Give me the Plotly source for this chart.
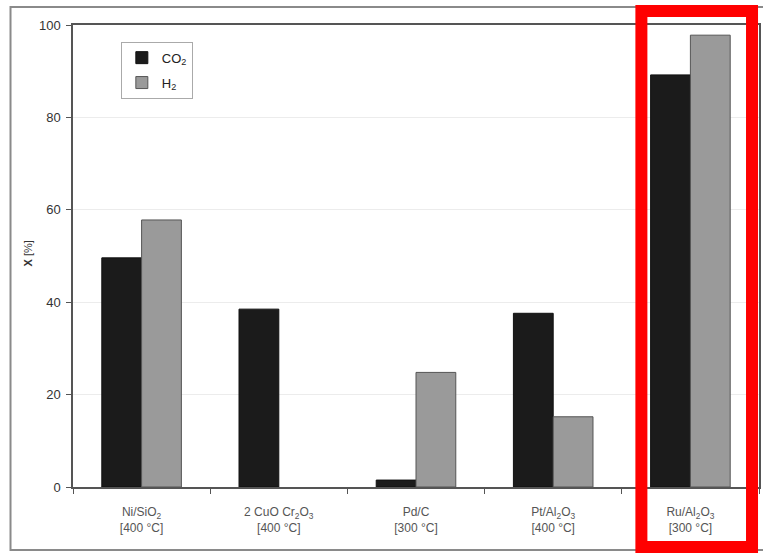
import plotly.graph_objects as go

categories = ["Ni/SiO<sub>2</sub><br>[400 °C]", "2 CuO Cr<sub>2</sub>O<sub>3</sub><br>[400 °C]",
              "Pd/C<br>[300 °C]", "Pt/Al<sub>2</sub>O<sub>3</sub><br>[400 °C]",
              "Ru/Al<sub>2</sub>O<sub>3</sub><br>[300 °C]"]
co2 = [49.6, 38.5, 1.5, 37.6, 89.2]
h2 = [57.8, None, 24.8, 15.2, 97.8]
y_ticks = [0, 20, 40, 60, 80, 100]

W, H = 763, 554
L, R, T, B = 72.7, 2, 25, 67
pw, ph = W - L - R, H - T - B

def px_x(x):
    return (x - L) / pw

def px_y(y):
    return (H - B - y) / ph

font = "Liberation Sans, Arial, sans-serif"

fig = go.Figure()
fig.add_trace(go.Bar(x=categories, y=co2, name="CO<sub>2</sub>", legendgroup="a",
                     marker=dict(color="#1b1b1b", line=dict(color="#111111", width=1))))
fig.add_trace(go.Bar(x=categories, y=h2, name="H<sub>2</sub>", legendgroup="b",
                     marker=dict(color="#9a9a9a", line=dict(color="#555555", width=1))))

fig.update_layout(
    width=W, height=H,
    margin=dict(l=L, r=R, t=T, b=B, pad=0),
    paper_bgcolor="white", plot_bgcolor="white",
    barmode="group", bargap=0.42, bargroupgap=0,
    font=dict(family=font, color="#333333"),
    showlegend=True,
    legend=dict(x=px_x(120.7), y=px_y(41.7), xanchor="left", yanchor="top",
                bordercolor="#aaaaaa", borderwidth=1, bgcolor="white",
                font=dict(size=13, color="#222222"), itemwidth=30,
                tracegroupgap=5),
    xaxis=dict(type="category", showline=True, linecolor="#555555", linewidth=1.5,
               mirror=True, ticks="outside", tickson="boundaries", ticklen=5,
               tickcolor="#555555", tickfont=dict(size=12, color="#555555"),
               ticklabelstandoff=13,
               showgrid=False, fixedrange=True),
    yaxis=dict(range=[0, 100], tickvals=y_ticks, showline=True, linecolor="#555555",
               linewidth=1.5, mirror=True, ticks="outside", ticklen=5,
               tickcolor="#555555", tickfont=dict(size=13, color="#333333"),
               ticklabelstandoff=3,
               showgrid=True, gridcolor="#ececec", gridwidth=1, zeroline=False),
    annotations=[dict(text="<b>X</b> [%]", textangle=-90, showarrow=False,
                      xref="paper", yref="paper", x=px_x(28), y=px_y(253),
                      xanchor="center", yanchor="middle",
                      font=dict(size=11, color="#333333"))],
    shapes=[
        dict(type="rect", xref="paper", yref="paper",
             x0=px_x(10), x1=px_x(775), y0=px_y(7), y1=px_y(550),
             line=dict(color="#8a8a8a", width=2), layer="below"),
        dict(type="rect", xref="paper", yref="paper",
             x0=px_x(643), x1=px_x(754), y0=px_y(11), y1=px_y(547),
             line=dict(color="#ff0000", width=12)),
    ],
)

fig.write_html("out.html", config={"displayModeBar": False},
               post_script="document.body.style.margin='0';")
